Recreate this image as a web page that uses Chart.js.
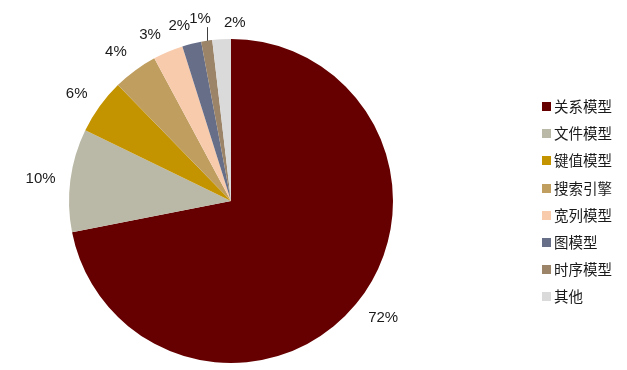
<!DOCTYPE html>
<html>
<head>
<meta charset="utf-8">
<script src="https://cdn.jsdelivr.net/npm/chart.js@4"></script>
<style>
  html, body { margin: 0; padding: 0; background: #fff; }
</style>
</head>
<body>
<canvas id="grafica" width="627" height="370"></canvas>
<script>
// categorías y participación (%)
const modelos = ['关系模型', '文件模型', '键值模型', '搜索引擎', '宽列模型', '图模型', '时序模型', '其他'];
const shares = [71.9, 10.3, 5.5, 4.45, 3.0, 1.9, 1.1, 1.85];
const colores = ['#660000', '#BAB8A6', '#C49400', '#BF9E60', '#F8CBAD', '#666E88', '#9C8469', '#DADADA'];

// ajustes finos de las etiquetas (px) y línea guía
const labelNudge = [[0, -3], [5, 2], [2, 3], [-1, 3], [-6, 8], [-5, 8], [-2, 5], [15, 11]];
const leader = [false, false, false, false, false, false, true, false];

const outsideLabels = {
    id: 'outsideLabels',
    afterDatasetsDraw(chart) {
        const ctx = chart.ctx;
        const arcs = chart.getDatasetMeta(0).data;
        ctx.save();
        ctx.font = '15px "Liberation Sans", Arial, sans-serif';
        ctx.fillStyle = '#1a1a1a';
        ctx.textAlign = 'center';
        ctx.textBaseline = 'middle';
        arcs.forEach((arc, i) => {
            const mid = (arc.startAngle + arc.endAngle) / 2;
            const r = arc.outerRadius + 20;
            const txt = Math.round(shares[i]) + '%';
            const w = ctx.measureText(txt).width;
            const cx = Math.cos(mid), cy = Math.sin(mid);
            const x = arc.x + cx * r + cx * w / 2 + labelNudge[i][0];
            const y = arc.y + cy * r + cy * 7 + labelNudge[i][1];
            if (leader[i]) {
                const ax = arc.x + cx * arc.outerRadius;
                const ay = arc.y + cy * arc.outerRadius;
                ctx.strokeStyle = '#404040';
                ctx.lineWidth = 1;
                ctx.beginPath();
                ctx.moveTo(Math.round(ax) + 0.5, ay);
                ctx.lineTo(Math.round(ax) + 0.5, y + 8);
                ctx.stroke();
            }
            ctx.fillText(txt, x, y);
        });
        ctx.restore();
    }
};

const sideLegend = {
    id: 'sideLegend',
    afterDraw(chart) {
        const ctx = chart.ctx;
        ctx.save();
        ctx.font = '14.5px "Noto Sans CJK SC", sans-serif';
        ctx.textBaseline = 'middle';
        ctx.textAlign = 'left';
        chart.data.labels.forEach((lab, i) => {
            const y = 106.5 + i * 27.2;
            ctx.fillStyle = colores[i];
            ctx.fillRect(542, Math.round(y - 4.5), 9, 9);
            ctx.fillStyle = '#1a1a1a';
            ctx.fillText(lab, 554, y);
        });
        ctx.restore();
    }
};

new Chart(document.getElementById('grafica').getContext('2d'), {
    type: 'pie',
    data: {
        labels: modelos,
        datasets: [{
            data: shares,
            backgroundColor: colores,
            borderWidth: 0,
            hoverOffset: 0,
            offset: 0
        }]
    },
    options: {
        responsive: false,
        animation: false,
        events: [],
        layout: { padding: { left: 0, right: 165, top: 39, bottom: 7 } },
        plugins: {
            legend: { display: false },
            tooltip: { enabled: false }
        }
    },
    plugins: [outsideLabels, sideLegend]
});
</script>
</body>
</html>
